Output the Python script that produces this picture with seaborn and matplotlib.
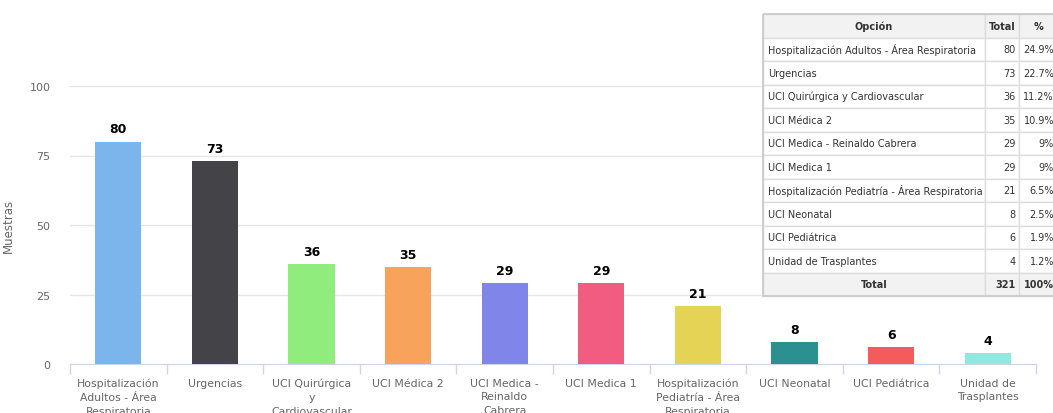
import matplotlib.pyplot as plt
import numpy as np
import pandas as pd
import seaborn as sns
from matplotlib.patches import Rectangle

# Data
categories = ['Hospitalización Adultos - Área Respiratoria', 'Urgencias',
              'UCI Quirúrgica y Cardiovascular', 'UCI Médica 2',
              'UCI Medica - Reinaldo Cabrera', 'UCI Medica 1',
              'Hospitalización Pediatría - Área Respiratoria', 'UCI Neonatal',
              'UCI Pediátrica', 'Unidad de Trasplantes']
tick_labels = ['Hospitalización\nAdultos - Área\nRespiratoria', 'Urgencias',
               'UCI Quirúrgica\ny\nCardiovascular', 'UCI Médica 2',
               'UCI Medica -\nReinaldo\nCabrera', 'UCI Medica 1',
               'Hospitalización\nPediatría - Área\nRespiratoria', 'UCI Neonatal',
               'UCI Pediátrica', 'Unidad de\nTrasplantes']
values = [80, 73, 36, 35, 29, 29, 21, 8, 6, 4]
percents = ['24.9%', '22.7%', '11.2%', '10.9%', '9%', '9%', '6.5%', '2.5%', '1.9%', '1.2%']
total_label = ['Total', '321', '100%']
colors = ['#7cb5ec', '#434348', '#90ed7d', '#f7a35c', '#8085e9',
          '#f15c80', '#e4d354', '#2b908f', '#f45b5b', '#91e8e1']

df = pd.DataFrame({'cat': categories, 'val': values})

W, H = 1053, 414
fig = plt.figure(figsize=(W / 100, H / 100), dpi=100)
ax = fig.add_axes([70 / W, 1 - 365 / H, (1036 - 70) / W, (365 - 87) / H])

sns.barplot(data=df, x='cat', y='val', hue='cat', palette=colors,
            legend=False, width=0.48, saturation=1, ax=ax, zorder=3)

ax.set_xlim(-0.5, 9.5)
ax.set_ylim(0, 100)
ax.set_yticks([0, 25, 50, 75, 100])
ax.grid(axis='y', color='#e6e6e6', linewidth=1, zorder=0)
for s in ['top', 'right', 'left']:
    ax.spines[s].set_visible(False)
ax.spines['bottom'].set_color('#ccd6eb')
ax.tick_params(axis='y', length=0, labelsize=8, labelcolor='#666666', pad=14)

ax.set_xticks(range(len(tick_labels)))
ax.set_xticklabels(tick_labels, fontsize=7.8, color='#666666', linespacing=1.45)
ax.tick_params(axis='x', which='major', length=0, pad=10)
ax.set_xticks(np.arange(-0.5, 10, 1), minor=True)
ax.tick_params(axis='x', which='minor', length=7, color='#ccd6eb', width=1)
ax.set_xlabel('')
ax.set_ylabel('Muestras', fontsize=8.5, color='#666666')
ax.yaxis.set_label_coords(-55 / 966, 0.5)

for i, v in enumerate(values):
    ax.text(i, v + 2.2, str(v), ha='center', va='bottom', fontsize=9,
            fontweight='bold', color='#000000', zorder=4)

# Summary table (top right, clipped at the figure edge like the reference)
tx0, ty0 = 763, 15
row_h = 23.5
col_x = [763, 985, 1019, 1060]
rows = [['Opción', 'Total', '%']] + \
       [[c, str(v), p] for c, v, p in zip(categories, values, percents)] + \
       [total_label]
tax = fig.add_axes([0, 0, 1, 1])
tax.set_xlim(0, W)
tax.set_ylim(H, 0)
tax.axis('off')
fs = 7.0
for r, row in enumerate(rows):
    y = ty0 + r * row_h
    shaded = r == 0 or r == len(rows) - 1
    for c in range(3):
        x0, x1 = col_x[c], col_x[c + 1]
        tax.add_patch(Rectangle((x0, y), x1 - x0, row_h,
                                facecolor='#f2f2f2' if shaded else 'white',
                                edgecolor='#dddddd', linewidth=1))
        txt = row[c]
        if r == 0:
            cx = (x0 + x1) / 2 if c < 2 else 1039
            tax.text(cx, y + row_h / 2, txt, ha='center', va='center',
                     fontsize=fs, color='#333333', fontweight='bold')
        elif c == 0 and not shaded:
            tax.text(x0 + 5, y + row_h / 2, txt, ha='left', va='center',
                     fontsize=fs, color='#333333')
        elif c == 0:
            tax.text((x0 + x1) / 2, y + row_h / 2, txt, ha='center', va='center',
                     fontsize=fs, color='#333333', fontweight='bold')
        else:
            tax.text(x1 - 3 if c == 1 else 1054, y + row_h / 2, txt, ha='right',
                     va='center', fontsize=fs, color='#333333',
                     fontweight='bold' if shaded else 'normal')
tax.add_patch(Rectangle((tx0, ty0), 1060 - tx0, row_h * len(rows), fill=False,
                        edgecolor='#c8c8c8', linewidth=1.2))

fig.savefig('out.png', dpi=100)
